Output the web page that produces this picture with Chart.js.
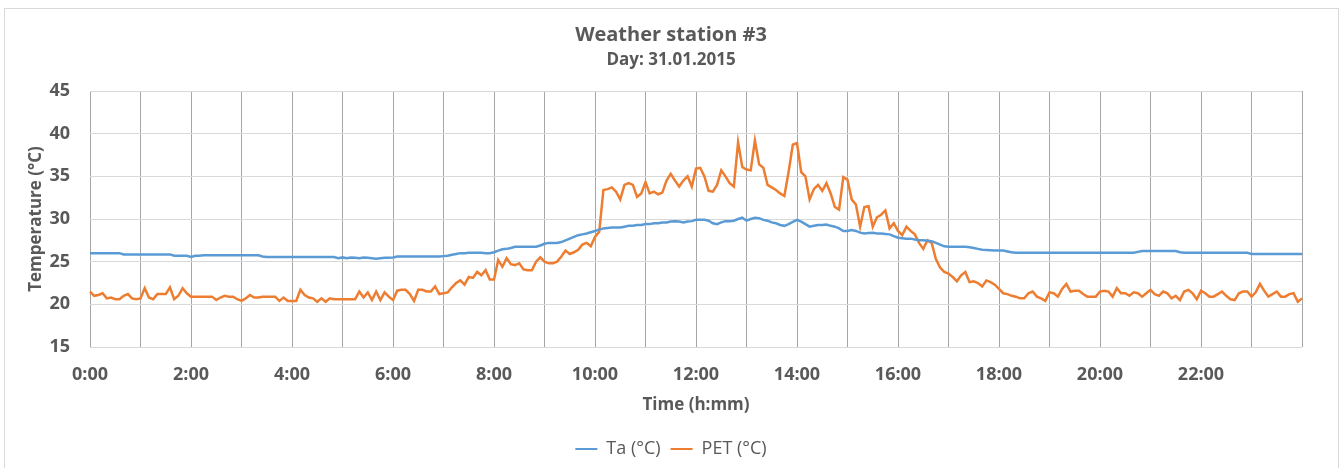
<!DOCTYPE html>
<html>
<head>
<meta charset="utf-8">
<script src="https://cdn.jsdelivr.net/npm/chart.js@4.4.1/dist/chart.umd.min.js"></script>
<style>
  html, body { margin: 0; padding: 0; background: #ffffff; }
  canvas { display: block; }
</style>
</head>
<body>
<canvas id="c" width="1343" height="468"></canvas>
<script>
// Time of day in 5-minute steps (0:00 ... 24:00)
const times = [];
for (let m = 0; m <= 1440; m += 5) {
  times.push(Math.floor(m / 60) + ':' + String(m % 60).padStart(2, '0'));
}
// Labels shown on the time axis (every 2 hours)
const tickLabels = ['0:00','2:00','4:00','6:00','8:00','10:00','12:00','14:00','16:00','18:00','20:00','22:00'];
const yTicks = [15, 20, 25, 30, 35, 40, 45];

// Air temperature Ta (°C), one row per hour (12 values of 5 min)
const ta = [
  26.0, 26.0, 26.0, 26.0, 26.0, 26.0, 26.0, 26.0, 25.85, 25.85, 25.85, 25.85,
  25.85, 25.85, 25.85, 25.85, 25.85, 25.85, 25.85, 25.85, 25.7, 25.7, 25.7, 25.7,
  25.55, 25.7, 25.7, 25.75, 25.75, 25.75, 25.75, 25.75, 25.75, 25.75, 25.75, 25.75,
  25.75, 25.75, 25.75, 25.75, 25.75, 25.6, 25.55, 25.55, 25.55, 25.55, 25.55, 25.55,
  25.55, 25.55, 25.55, 25.55, 25.55, 25.55, 25.55, 25.55, 25.55, 25.55, 25.55, 25.4,
  25.5, 25.4, 25.5, 25.45, 25.4, 25.5, 25.45, 25.4, 25.35, 25.4, 25.45, 25.45,
  25.5, 25.6, 25.6, 25.6, 25.6, 25.6, 25.6, 25.6, 25.6, 25.6, 25.6, 25.6,
  25.65, 25.7, 25.8, 25.9, 26.0, 26.0, 26.05, 26.05, 26.05, 26.05, 26.0, 26.0,
  26.1, 26.3, 26.45, 26.5, 26.6, 26.75, 26.75, 26.75, 26.75, 26.75, 26.75, 26.9,
  27.1, 27.2, 27.2, 27.2, 27.3, 27.5, 27.7, 27.9, 28.1, 28.2, 28.3, 28.45,
  28.6, 28.75, 28.9, 28.95, 29.0, 29.0, 29.0, 29.1, 29.2, 29.2, 29.3, 29.3,
  29.4, 29.4, 29.5, 29.5, 29.6, 29.6, 29.7, 29.75, 29.7, 29.6, 29.7, 29.75,
  29.9, 29.9, 29.9, 29.8, 29.5, 29.4, 29.6, 29.75, 29.75, 29.8, 30.0, 30.15,
  29.8, 30.0, 30.15, 30.1, 29.9, 29.8, 29.6, 29.5, 29.3, 29.2, 29.4, 29.65,
  29.9, 29.7, 29.4, 29.1, 29.2, 29.3, 29.3, 29.35, 29.2, 29.1, 28.9, 28.6,
  28.6, 28.7, 28.6, 28.4, 28.3, 28.35, 28.4, 28.3, 28.3, 28.25, 28.2, 28.0,
  27.8, 27.75, 27.7, 27.7, 27.6, 27.5, 27.5, 27.45, 27.4, 27.2, 27.0, 26.8,
  26.76, 26.76, 26.76, 26.76, 26.76, 26.7, 26.6, 26.5, 26.4, 26.37, 26.35, 26.3,
  26.3, 26.3, 26.2, 26.1, 26.05, 26.05, 26.05, 26.05, 26.05, 26.05, 26.05, 26.05,
  26.05, 26.05, 26.05, 26.05, 26.05, 26.05, 26.05, 26.05, 26.05, 26.05, 26.05, 26.05,
  26.05, 26.05, 26.05, 26.05, 26.05, 26.05, 26.05, 26.05, 26.05, 26.15, 26.25, 26.25,
  26.25, 26.25, 26.25, 26.25, 26.25, 26.25, 26.25, 26.1, 26.05, 26.05, 26.05, 26.05,
  26.05, 26.05, 26.05, 26.05, 26.05, 26.05, 26.05, 26.05, 26.05, 26.05, 26.05, 26.05,
  25.9, 25.9, 25.9, 25.9, 25.9, 25.9, 25.9, 25.9, 25.9, 25.9, 25.9, 25.9,
  25.9
];

// Physiological equivalent temperature PET (°C), one row per hour
const pet = [
  21.5, 21.0, 21.1, 21.3, 20.7, 20.8, 20.6, 20.6, 21.0, 21.2, 20.7, 20.6,
  20.7, 21.9, 20.8, 20.6, 21.2, 21.2, 21.2, 22.0, 20.6, 21.0, 21.9, 21.3,
  20.9, 20.9, 20.9, 20.9, 20.9, 20.9, 20.5, 20.8, 21.0, 20.9, 20.9, 20.6,
  20.4, 20.7, 21.1, 20.8, 20.8, 20.9, 20.9, 20.9, 20.9, 20.4, 20.8, 20.4,
  20.4, 20.4, 21.7, 21.1, 20.8, 20.7, 20.3, 20.7, 20.3, 20.7, 20.6, 20.6,
  20.6, 20.6, 20.6, 20.6, 21.5, 20.8, 21.4, 20.5, 21.5, 20.5, 21.4, 20.9,
  20.5, 21.6, 21.7, 21.7, 21.2, 20.4, 21.7, 21.7, 21.5, 21.5, 22.1, 21.2,
  21.3, 21.4, 22.0, 22.5, 22.8, 22.3, 23.2, 23.1, 23.8, 23.4, 24.0, 22.9,
  22.9, 25.2, 24.4, 25.4, 24.7, 24.6, 24.8, 24.1, 24.0, 24.0, 25.0, 25.5,
  25.0, 24.8, 24.8, 25.0, 25.6, 26.3, 25.9, 26.1, 26.4, 27.0, 27.2, 26.8,
  27.9, 28.5, 33.4, 33.5, 33.7, 33.2, 32.3, 34.0, 34.2, 34.0, 32.6, 33.0,
  34.3, 33.0, 33.2, 32.9, 33.1, 34.5, 35.3, 34.5, 33.8, 34.5, 35.0, 33.8,
  35.9, 36.0, 35.0, 33.3, 33.2, 34.0, 35.7, 35.0, 34.2, 33.8, 39.0, 36.1,
  35.8, 35.7, 39.2, 36.4, 36.0, 34.0, 33.7, 33.4, 33.0, 32.7, 35.5, 38.7,
  38.9, 35.5, 35.0, 32.3, 33.5, 34.0, 33.3, 34.2, 33.0, 31.4, 31.1, 34.9,
  34.6, 32.3, 31.7, 29.1, 31.4, 31.5, 29.1, 30.2, 30.5, 31.0, 28.9, 29.5,
  28.6, 28.1, 29.1, 28.6, 28.2, 27.2, 26.5, 27.5, 27.2, 25.3, 24.3, 23.8,
  23.6, 23.2, 22.7, 23.4, 23.8, 22.6, 22.7, 22.5, 22.1, 22.8, 22.6, 22.3,
  21.8, 21.3, 21.2, 21.0, 20.9, 20.7, 20.7, 21.3, 21.5, 20.9, 20.7, 20.4,
  21.4, 21.3, 20.9, 21.8, 22.4, 21.5, 21.6, 21.6, 21.2, 20.9, 20.9, 20.9,
  21.5, 21.6, 21.5, 20.9, 21.9, 21.3, 21.3, 21.0, 21.4, 21.3, 20.9, 21.3,
  21.7, 21.2, 21.0, 21.5, 21.3, 20.7, 21.0, 20.5, 21.5, 21.7, 21.3, 20.6,
  21.6, 21.3, 20.9, 20.9, 21.2, 21.5, 21.0, 20.6, 20.5, 21.3, 21.5, 21.5,
  20.9, 21.4, 22.4, 21.6, 20.9, 21.2, 21.5, 20.9, 20.9, 21.2, 21.3, 20.3,
  20.7
];

const FONT = "'Open Sans', 'Liberation Sans', sans-serif";
const TXT = '#595959';

const framePlugin = {
  id: 'frame',
  beforeDraw(chart) {
    const c = chart.ctx;
    c.save();
    c.fillStyle = '#ffffff';
    c.fillRect(0, 0, chart.width, chart.height);
    c.strokeStyle = '#d9d9d9';
    c.lineWidth = 1;
    c.strokeRect(4.5, 8.5, 1334, 470);
    c.restore();
  }
};

new Chart(document.getElementById('c'), {
  type: 'line',
  data: {
    labels: times,
    datasets: [
      { label: 'Ta (°C)', data: ta, borderColor: '#5B9BD5', backgroundColor: '#5B9BD5',
        borderWidth: 2.5, pointRadius: 0, tension: 0 },
      { label: 'PET (°C)', data: pet, borderColor: '#ED7D31', backgroundColor: '#ED7D31',
        borderWidth: 2.5, pointRadius: 0, tension: 0 }
    ]
  },
  options: {
    responsive: false,
    animation: false,
    devicePixelRatio: 1,
    layout: { padding: { left: 40, right: 41, top: 0, bottom: 0 } },
    plugins: {
      tooltip: { enabled: false },
      title: {
        display: true, text: 'Weather station #3', color: TXT,
        font: { family: FONT, size: 20, weight: 'bold', lineHeight: 1.2 },
        padding: { top: 23, bottom: 0 }
      },
      subtitle: {
        display: true, text: 'Day: 31.01.2015', color: TXT,
        font: { family: FONT, size: 17, weight: 'bold', lineHeight: 1.2 },
        padding: { top: 3, bottom: 20.6 }
      },
      legend: {
        position: 'bottom',
        labels: {
          color: TXT,
          font: { family: FONT, size: 18 },
          boxWidth: 22, boxHeight: 2, padding: 10,
          generateLabels(chart) {
            return chart.data.datasets.map((d, i) => ({
              text: d.label, fillStyle: d.borderColor, strokeStyle: d.borderColor,
              lineWidth: 0, hidden: false, datasetIndex: i, fontColor: TXT
            }));
          }
        }
      }
    },
    scales: {
      x: {
        type: 'category',
        border: { display: false },
        grid: {
          drawTicks: false,
          color: (ctx) => (ctx.index % 12 === 0 ? '#a6a6a6' : 'rgba(0,0,0,0)'),
          lineWidth: 1
        },
        ticks: {
          autoSkip: false, maxRotation: 0, minRotation: 0, padding: 17,
          color: TXT, font: { family: FONT, size: 18, weight: 'bold' },
          callback: (v, i) => (i % 24 === 0 && i < 288 ? tickLabels[i / 24] : '')
        },
        title: {
          display: true, text: 'Time (h:mm)', color: TXT,
          font: { family: FONT, size: 17, weight: 'bold', lineHeight: 1.2 },
          padding: { top: 0, bottom: 14.8 }
        },
        afterFit(scale) { scale.height = 83; }
      },
      y: {
        min: 15, max: 45,
        border: { display: false },
        grid: { drawTicks: false, color: '#d9d9d9', lineWidth: 1 },
        afterBuildTicks(scale) { scale.ticks = yTicks.map(v => ({ value: v })); },
        ticks: {
          padding: 20, color: TXT, font: { family: FONT, size: 18, weight: 'bold' }
        },
        title: {
          display: true, text: 'Temperature (°C)', color: TXT,
          font: { family: FONT, size: 17, weight: 'bold', lineHeight: 1.2 },
          padding: { top: -13.7, bottom: 0 }
        },
        afterFit(scale) { scale.width = 50; }
      }
    }
  },
  plugins: [framePlugin]
});
</script>
</body>
</html>
